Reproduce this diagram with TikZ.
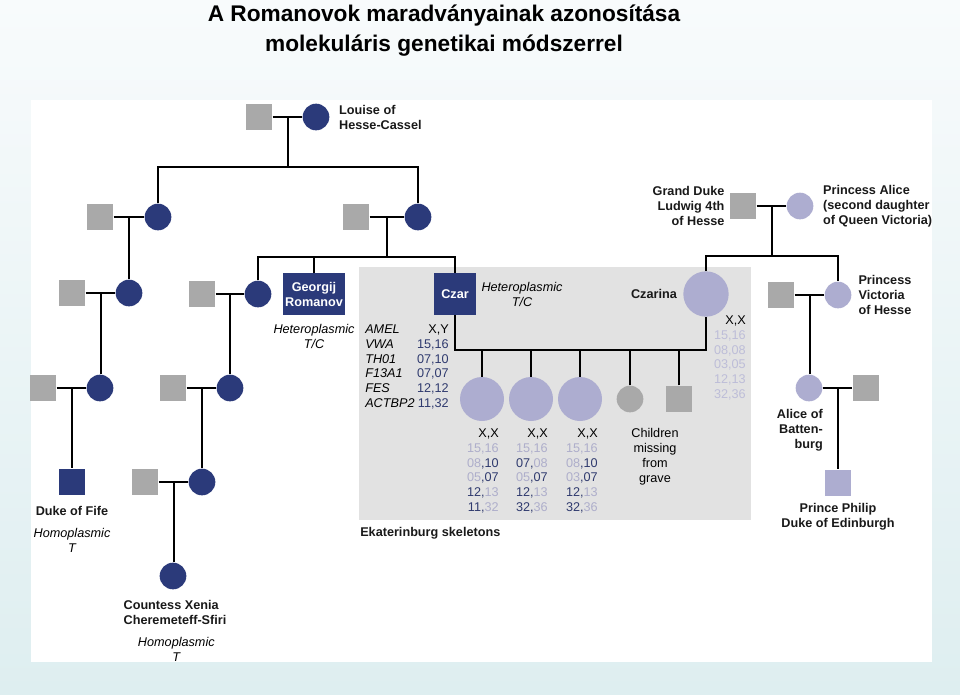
\documentclass[tikz,border=0pt]{standalone}
\usepackage{fontspec}
\setmainfont{Liberation Sans}
\usetikzlibrary{positioning, calc}

\definecolor{navy}{HTML}{2B3A7A}
\definecolor{mgrey}{HTML}{A9A9A9}
\definecolor{lav}{HTML}{ADADD0}
\definecolor{boxgrey}{HTML}{E2E2E2}
\definecolor{dk}{HTML}{2F3A6E}
\definecolor{lt}{HTML}{AEAECB}
\definecolor{ltr}{HTML}{BDBDD8}
\definecolor{bgtop}{HTML}{F8FBFC}
\definecolor{bgbot}{HTML}{DEEEF0}

\newcommand{\pale}[1]{\textcolor{lt}{#1}}
\newcommand{\deep}[1]{\textcolor{dk}{#1}}

\begin{document}
\begin{tikzpicture}[
  x=0.75pt, y=-0.75pt,
  male/.style={rectangle, minimum size=20pt, inner sep=0pt, fill=mgrey},
  female/.style={circle, minimum size=20pt, inner sep=0pt, fill=navy},
  big/.style={circle, minimum size=33pt, inner sep=0pt, fill=lav},
  namebox/.style={rectangle, inner sep=0pt, fill=navy, text=white, align=center,
    font=\bfseries\fontsize{9.5}{11.25}\selectfont},
  link/.style={line width=1.5pt},
  pname/.style={font=\bfseries\fontsize{9.5}{11.25}\selectfont, inner sep=0pt, text=black!90},
  note/.style={font=\itshape\fontsize{9.5}{11.25}\selectfont, inner sep=0pt, align=center},
  gene/.style={font=\fontsize{9.5}{11.1}\selectfont, inner sep=0pt}
]
\useasboundingbox (0,0) rectangle (960,694);

% Background
\shade[top color=bgtop, bottom color=bgbot] (0,0) rectangle (960,694);
\fill[white] (31,100) rectangle (932,662);
\fill[boxgrey] (359,267) rectangle (751,520);

% Title
\node[font=\bfseries\fontsize{17}{22.5}\selectfont, align=center] (title) at (444,31)
  {A Romanovok maradványainak azonosítása\\molekuláris genetikai módszerrel};

% Generation 1
\node[male] (g1m) at (259,117) {};
\node[female] (g1f) at (316,117) {};
\node[pname, align=left, right=7pt of g1f] (louise) {Louise of\\Hesse-Cassel};

% Generation 2
\node[male] (g2am) at (100,217) {};
\node[female] (g2af) at (158,217) {};
\node[male] (g2bm) at (356,217) {};
\node[female] (g2bf) at (418,217) {};

% Generation 3
\node[male] (g3am) at (72,293) {};
\node[female] (g3af) at (129,293) {};
\node[male] (g3bm) at (202,294) {};
\node[female] (g3bf) at (258,294) {};
\node[namebox, minimum width=46pt, minimum height=31pt] (georgij) at (314,294) {Georgij\\Romanov};
\node[note, below=7pt of georgij] (georgijnote) {Heteroplasmic\\T/C};
\node[namebox, minimum size=31pt] (czar) at (455,294) {Czar};
\node[note, right=4pt of czar] (czarnote) {Heteroplasmic\\T/C};

% Generation 4
\node[male] (g4am) at (43,388) {};
\node[female] (g4af) at (100,388) {};
\node[male] (g4bm) at (173,388) {};
\node[female] (g4bf) at (230,388) {};

% Generation 5
\node[male, fill=navy] (fife) at (72,482) {};
\node[pname, below=8pt of fife] (fifename) {Duke of Fife};
\node[note, below=9pt of fifename] (fifenote) {Homoplasmic\\T};
\node[male] (g5m) at (145,482) {};
\node[female] (g5f) at (202,482) {};

% Generation 6
\node[female] (xenia) at (173,576) {};
\node[pname, align=left, below=8pt of xenia, xshift=1.5pt] (xenianame) {Countess Xenia\\Cheremeteff-Sfiri};
\node[note, below=9pt of xenianame, xshift=1pt] (xenianote) {Homoplasmic\\T};

% Hesse side
\node[male] (ludwig) at (743,206) {};
\node[female, fill=lav] (alice) at (800,206) {};
\node[pname, align=right, left=3.5pt of ludwig] (ludwigname) {Grand Duke\\Ludwig 4th\\of Hesse};
\node[pname, align=left, right=7pt of alice] (alicename) {Princess Alice\\(second daughter\\of Queen Victoria)};
\node[big, minimum size=34pt] (czarina) at (706,294) {};
\node[pname, left=4.5pt of czarina] (czarinaname) {Czarina};
\node[male] (pvm) at (781,295) {};
\node[female, fill=lav] (pvict) at (838,295) {};
\node[pname, align=left, right=5pt of pvict] (pvictname) {Princess\\Victoria\\of Hesse};
\node[female, fill=lav] (alicebat) at (809,388) {};
\node[male] (abm) at (866,388) {};
\node[pname, align=right, anchor=north east] (alicebatname) at (823,409) {Alice of\\Batten-\\burg};
\node[male, fill=lav] (philip) at (838,483) {};
\node[pname, align=center, below=5pt of philip] (philipname) {Prince Philip\\Duke of Edinburgh};

% Children of the Czar
\node[big] (ch1) at (482,399) {};
\node[big] (ch2) at (531,399) {};
\node[big] (ch3) at (580,399) {};
\node[circle, minimum size=20pt, inner sep=0pt, fill=mgrey] (ch4) at (630,399) {};
\node[male] (ch5) at (679,399) {};

% Marker tables
\node[gene, font=\itshape\fontsize{9.5}{11.1}\selectfont, align=left, anchor=north west] (czlabels) at (365,324.5)
  {AMEL\\VWA\\TH01\\F13A1\\FES\\ACTBP2};
\node[gene, align=right, anchor=north east] (czvals) at (449,324.5)
  {X,Y\\\deep{15,16}\\\deep{07,10}\\\deep{07,07}\\\deep{12,12}\\\deep{11,32}};
\node[gene, align=right, anchor=north east] (czarinavals) at (746,315.5)
  {X,X\\\color{ltr}15,16\\\color{ltr}08,08\\\color{ltr}03,05\\\color{ltr}12,13\\\color{ltr}32,36};
\node[gene, align=right, anchor=north east] (ch1vals) at (499,428.5)
  {X,X\\\pale{15,16}\\\pale{08}\deep{,10}\\\pale{05}\deep{,07}\\\deep{12,}\pale{13}\\\deep{11,}\pale{32}};
\node[gene, align=right, anchor=north east] (ch2vals) at (548,428.5)
  {X,X\\\pale{15,16}\\\deep{07,}\pale{08}\\\pale{05}\deep{,07}\\\deep{12,}\pale{13}\\\deep{32,}\pale{36}};
\node[gene, align=right, anchor=north east] (ch3vals) at (598,428.5)
  {X,X\\\pale{15,16}\\\pale{08}\deep{,10}\\\pale{03}\deep{,07}\\\deep{12,}\pale{13}\\\deep{32,}\pale{36}};
\node[gene, align=center, anchor=north] (missing) at (655,428.5) {Children\\missing\\from\\grave};
\node[pname, anchor=west] (ekat) at (360,533) {Ekaterinburg skeletons};

% Junctions
\coordinate (j1) at ($(g1m)!.5!(g1f)$);
\coordinate (s1) at (287.5,167);
\coordinate (j2a) at ($(g2am)!.5!(g2af)$);
\coordinate (j2b) at ($(g2bm)!.5!(g2bf)$);
\coordinate (s2) at (387,257);
\coordinate (j3a) at ($(g3am)!.5!(g3af)$);
\coordinate (j3b) at ($(g3bm)!.5!(g3bf)$);
\coordinate (j4a) at ($(g4am)!.5!(g4af)$);
\coordinate (j4b) at ($(g4bm)!.5!(g4bf)$);
\coordinate (j5) at ($(g5m)!.5!(g5f)$);
\coordinate (j6) at ($(ludwig)!.5!(alice)$);
\coordinate (s3) at (771.5,256);
\coordinate (j7) at ($(pvm)!.5!(pvict)$);
\coordinate (j8) at ($(alicebat)!.5!(abm)$);
\coordinate (cfam) at (580,350);

% Marriages
\foreach \a/\b in {g1m/g1f, g2am/g2af, g2bm/g2bf, g3am/g3af, g3bm/g3bf, g4am/g4af,
  g4bm/g4bf, g5m/g5f, ludwig/alice, pvm/pvict, alicebat/abm}
  \draw[link] (\a) -- (\b);

% Descent
\draw[link] (j1) -- (s1);
\draw[link] (g2af) |- (s1) -| (g2bf);
\draw[link] (j2a) -- (j2a |- g3af.north);
\draw[link] (j3a) -- (j3a |- g4af.north);
\draw[link] (j4a) -- (j4a |- fife.north);
\draw[link] (j2b) -- (s2);
\draw[link] (g3bf) |- (s2) -| (czar);
\draw[link] (georgij) -- (georgij |- s2);
\draw[link] (j3b) -- (j3b |- g4bf.north);
\draw[link] (j4b) -- (j4b |- g5f.north);
\draw[link] (j5) -- (j5 |- xenia.north);
\draw[link] (j6) -- (s3);
\draw[link] (czarina) |- (s3) -| (pvict);
\draw[link] (j7) -- (j7 |- alicebat.north);
\draw[link] (j8) -- (j8 |- philip.north);

% Czar and Czarina
\draw[link] (czar) |- (cfam) -| (czarina);
\foreach \c in {ch1, ch2, ch3, ch4, ch5}
  \draw[link] (\c) -- (\c |- cfam);

\end{tikzpicture}
\end{document}
